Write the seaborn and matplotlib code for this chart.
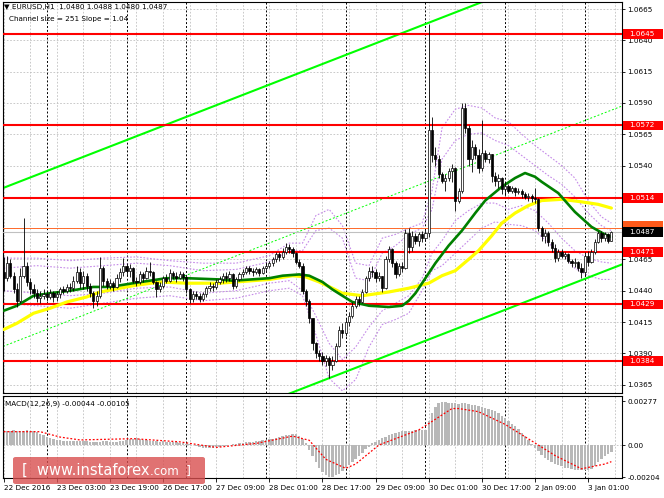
import numpy as np
import pandas as pd
import seaborn as sns
import matplotlib.pyplot as plt
from matplotlib.patches import Rectangle, FancyBboxPatch

# EURUSD H1, 22 Dec 2016 11:00 .. 3 Jan 2017 08:00
# prices in pips above 1.0000 (1 pip = 0.0001)
first_open = 455
closes = [
    # 22 Dec
    450, 462, 452, 441, 432, 452, 460, 447, 441, 438, 434, 436, 437,
    # 23 Dec
    435, 438, 435, 437, 441, 440, 443, 442, 448, 455, 446, 452, 444, 438, 432, 436,
    458, 448, 444, 446, 443, 450, 455, 460,
    # 26 Dec
    456, 458, 448, 447, 453, 450, 456, 455, 447, 441, 444, 450, 448, 454, 452, 450, 453, 451,
    # 27 Dec
    441, 433, 437, 436, 433, 437, 442, 444, 443, 447, 449, 452, 450, 453, 444, 449,
    453, 455, 458, 456, 455, 457, 454, 458,
    # 28 Dec
    460, 462, 465, 469, 467, 471, 475, 473, 470, 463, 460, 440, 432, 418, 398, 390,
    388, 384, 386, 381, 384, 396, 409, 406,
    # 29 Dec
    415, 420, 428, 433, 431, 439, 450, 456, 455, 450, 452, 442, 465, 473, 462, 453,
    460, 458, 486, 475, 484, 480, 485, 482,
    # 30 Dec
    486, 568, 548, 545, 533, 528, 530, 536, 538, 512, 520, 586, 570, 545, 555, 548,
    538, 550, 545, 549, 532, 528, 530, 521,
    # 2 Jan
    524, 520, 522, 519, 520, 517, 515, 516, 514, 513, 490, 484, 486, 479, 474, 466,
    471, 468, 469, 464, 462, 463, 458, 455,
    # 3 Jan
    468, 463, 471, 479, 486, 482, 485, 480, 487,
]
highs = [
    467, 468, 465, 455, 446, 458, 498, 463, 450, 445, 441, 440, 441,
    440, 441, 440, 440, 443, 444, 445, 446, 452, 460, 458, 456, 454, 446, 440, 440,
    467, 460, 450, 449, 448, 453, 458, 466,
    462, 461, 459, 451, 456, 455, 459, 463, 456, 448, 447, 452, 453, 457, 456, 455, 456, 455,
    452, 442, 440, 440, 438, 439, 444, 447, 446, 449, 452, 454, 455, 456, 454, 451,
    455, 457, 460, 460, 458, 459, 458, 460,
    463, 464, 467, 471, 471, 474, 478, 477, 475, 471, 465, 462, 441, 433, 418, 399,
    393, 391, 389, 388, 388, 398, 412, 414,
    418, 423, 431, 436, 436, 441, 452, 459, 460, 457, 455, 452, 468, 476, 474, 464,
    462, 463, 489, 490, 488, 486, 487, 488,
    489, 653, 579, 555, 548, 535, 533, 538, 541, 539, 522, 590, 590, 572, 560, 557,
    553, 576, 552, 551, 549, 535, 533, 531,
    527, 525, 524, 523, 522, 521, 519, 518, 517, 522, 514, 492, 489, 488, 481, 477,
    473, 473, 471, 470, 465, 466, 464, 462,
    471, 472, 473, 481, 488, 488, 487, 486, 488,
]
lows = [
    440, 448, 450, 438, 427, 430, 450, 444, 437, 434, 431, 430, 433,
    432, 433, 431, 432, 434, 437, 438, 439, 440, 446, 442, 441, 440, 435, 426, 428,
    434, 444, 441, 441, 440, 442, 447, 452,
    452, 451, 446, 444, 445, 447, 449, 452, 445, 435, 439, 442, 446, 447, 449, 447, 449, 448,
    438, 430, 431, 433, 431, 432, 435, 440, 440, 441, 445, 446, 447, 448, 441, 442,
    448, 451, 453, 453, 452, 453, 452, 453,
    456, 458, 460, 463, 464, 465, 469, 470, 467, 461, 458, 437, 428, 414, 393, 386,
    384, 381, 380, 370, 377, 383, 395, 402,
    404, 412, 418, 426, 428, 430, 438, 448, 451, 447, 448, 439, 441, 463, 459, 450,
    452, 455, 457, 470, 472, 477, 476, 479,
    480, 483, 543, 540, 530, 526, 520, 528, 527, 504, 510, 518, 566, 540, 535, 545,
    534, 536, 543, 542, 527, 524, 522, 517,
    516, 518, 518, 516, 517, 514, 513, 512, 511, 510, 488, 480, 478, 476, 471, 463,
    464, 466, 465, 462, 459, 459, 456, 450,
    452, 460, 462, 469, 478, 479, 480, 478, 480,
]

day_starts = [13, 37, 55, 79, 103, 127, 151, 175]
time_labels = ['22 Dec 2016', '23 Dec 03:00', '23 Dec 19:00', '26 Dec 17:00',
               '27 Dec 09:00', '28 Dec 01:00', '28 Dec 17:00', '29 Dec 09:00',
               '30 Dec 01:00', '30 Dec 17:00', '2 Jan 09:00', '3 Jan 01:00']

# moving averages (sampled at bar index)
ma_fast_idx = [0, 4, 9, 14, 20, 27, 32, 39, 49, 55, 65, 69, 80, 84, 89, 92, 96, 99, 102, 105,
               110, 116, 120, 122, 124, 126, 128, 130, 134, 138, 142, 145, 150, 154, 157, 160,
               162, 167, 172, 177, 181, 183]
ma_fast = [424, 428, 436, 438, 440, 443, 443, 446, 450, 450, 449, 448, 450, 452, 453, 452,
           447, 441, 436, 431, 428, 427, 428, 432, 438, 446, 454, 462, 476, 488, 502, 512,
           523, 530, 534, 531, 527, 518, 503, 491, 485, 483]
ma_slow_idx = [0, 4, 9, 14, 19, 25, 29, 39, 47, 55, 65, 80, 87, 91, 95, 99, 102, 108, 116,
               122, 128, 132, 136, 140, 143, 147, 150, 154, 158, 162, 168, 174, 179, 183]
ma_slow = [409, 414, 422, 426, 431, 435, 439, 444, 447, 446, 446, 449, 452, 451, 447, 442,
           438, 436, 439, 442, 446, 452, 456, 465, 472, 484, 494, 502, 508, 512, 513, 511,
           509, 506]

# purple bands (sampled)
bands_idx = [0, 10, 20, 30, 40, 50, 60, 70, 80, 86, 90, 94, 98, 102, 106, 110, 114, 118,
             122, 126, 129, 132, 136, 140, 144, 148, 152, 156, 160, 164, 168, 172, 176, 180, 183]
band_up_outer = [466, 466, 464, 466, 467, 464, 462, 462, 468, 478, 478, 500, 505, 492, 462, 460,
                 482, 485, 490, 494, 520, 570, 585, 588, 586, 578, 575, 565, 556, 548, 540, 530,
                 512, 499, 494]
band_up_inner = [458, 460, 458, 460, 462, 460, 456, 457, 463, 472, 472, 488, 490, 482, 450, 448,
                 470, 476, 485, 490, 505, 545, 560, 565, 566, 560, 556, 548, 540, 532, 525, 515,
                 502, 492, 488]
band_lo_inner = [440, 438, 436, 438, 442, 443, 438, 440, 446, 448, 440, 420, 398, 385, 395, 411,
                 424, 430, 436, 450, 470, 480, 496, 504, 510, 510, 505, 508, 504, 494, 482, 472,
                 466, 463, 462]
band_lo_outer = [430, 428, 426, 430, 434, 436, 432, 434, 440, 442, 436, 405, 370, 360, 369, 395,
                 413, 417, 422, 440, 456, 460, 470, 480, 490, 495, 493, 492, 488, 478, 470, 458,
                 452, 449, 449]

# regression channel, values at left edge and right edge of the chart
channel_idx = [-0.2, 186.2]
channel_upper = [522, 714]
channel_mid = [395.5, 587.5]
channel_lower = [269, 461]

levels = [1.0645, 1.0572, 1.0514, 1.0471, 1.0429, 1.0384]
bid, ask = 1.0487, 1.0490

# MACD(12,26,9) main values, 1e-5 units, one per bar
macd = [
    85, 88, 90, 92, 90, 88, 90, 92, 90, 86, 80, 72,
    62, 52, 44, 38, 33, 30,
    28, 27, 26, 25, 26, 25, 23, 24, 22, 20, 18, 20, 24, 23, 22, 21, 22, 24, 27, 30,
    35, 40, 42, 38, 34, 30, 27, 25,
    23, 22, 23, 21, 20, 20, 18, 15, 12, 8, 4,
    -2, -8, -14, -18, -20, -20, -18, -15, -12, -8, -4, 0, 4, 8,
    12, 15, 18, 20, 22, 25, 28, 30, 33, 36, 40, 45, 50, 55, 60, 65, 70, 68, 58,
    40, 10, -30, -70, -110, -145, -170, -190, -200,
    -200, -192, -180, -165, -148, -128, -108, -88, -68, -48, -28, -10,
    10, 22, 32, 42, 50, 60, 68, 76, 82, 86, 88, 90, 90, 92, 93, 94, 95,
    150, 200, 240, 262, 272, 270,
    268, 265, 262, 260, 265, 262, 258, 254, 250, 246, 240, 234, 228, 220, 212, 200, 185,
    168, 150, 135, 118, 98, 78, 55, 32, 5, -18,
    -40, -62, -80, -95, -108, -118, -127, -135, -142, -148, -152, -156, -158, -160, -158, -155, -150,
    -130, -110, -90, -72, -58, -44,
]
signal_idx = [0, 11, 17, 23, 39, 53, 64, 76, 87, 92, 97, 103, 106, 113, 118, 125, 135, 137,
              143, 151, 161, 166, 174, 181, 183]
signal = [84, 84, 50, 32, 40, 20, -15, 10, 56, 30, -90, -147, -120, 0, 40, 95, 230, 230,
          210, 130, 0, -66, -150, -120, -105]

# ---- build frames ----
bars = pd.DataFrame({'close': closes, 'high': highs, 'low': lows})
bars['open'] = [first_open] + closes[:-1]
bars[['open', 'high', 'low', 'close']] = 1 + bars[['open', 'high', 'low', 'close']] / 10000
bars['x'] = np.arange(len(bars))
n = len(bars)

sns.set_theme(style="white")
plt.rcParams['font.family'] = ['DejaVu Sans']
FS = 5.2

W, H = 664, 498
fig = plt.figure(figsize=(W / 100, H / 100), dpi=100)
ax = fig.add_axes([3 / W, 1 - 393 / H, 619 / W, 391 / H])
ax2 = fig.add_axes([3 / W, 1 - 478 / H, 619 / W, 82 / H])

xlim = (-0.2, 186.2)
ylim = (1.03583, 1.06706)
price_ticks = [round(1.0365 + 0.0025 * k, 4) for k in range(13)]
# tick labels hidden behind the level / price boxes are left blank
hidden_ticks = [1.0515, 1.0490]

for a in (ax, ax2):
    a.set_xlim(*xlim)
    a.set_facecolor('white')
    for s in a.spines.values():
        s.set_color('black')
        s.set_linewidth(0.8)
    # grid every 8 bars, day separators
    for gx in range(0, n + 3, 8):
        a.axvline(gx, color='#c0c0c0', lw=0.6, ls=(0, (2, 2)), zorder=0)
    for d in day_starts:
        a.axvline(d, color='black', lw=0.7, ls=(0, (2, 2)), zorder=1)

ax.set_ylim(*ylim)
for p in price_ticks:
    ax.axhline(p, color='#c0c0c0', lw=0.6, ls=(0, (2, 2)), zorder=0)

# bands
band_color = '#c58be8'
for vals in (band_up_outer, band_up_inner, band_lo_inner, band_lo_outer):
    sns.lineplot(x=bands_idx, y=1 + np.array(vals) / 10000, ax=ax, color=band_color,
                 lw=0.8, linestyle=(0, (1.5, 1.5)), zorder=2)

# channel
sns.lineplot(x=channel_idx, y=1 + np.array(channel_upper) / 10000, ax=ax, color='#00ff00', lw=1.5, zorder=2)
sns.lineplot(x=channel_idx, y=1 + np.array(channel_lower) / 10000, ax=ax, color='#00ff00', lw=1.5, zorder=2)
sns.lineplot(x=channel_idx, y=1 + np.array(channel_mid) / 10000, ax=ax, color='#00ff00', lw=0.7,
             linestyle=(0, (2, 2)), zorder=2)

# levels
for lv in levels:
    ax.axhline(lv, color='#ff0000', lw=1.5, zorder=3)
ax.axhline(ask, color='#ff6a2a', lw=0.7, zorder=3)
ax.axhline(bid, color='#c0c0c0', lw=0.8, zorder=3)

# moving averages
sns.lineplot(x=ma_slow_idx, y=1 + np.array(ma_slow) / 10000, ax=ax, color='#ffff00', lw=2.3, zorder=4)
sns.lineplot(x=ma_fast_idx, y=1 + np.array(ma_fast) / 10000, ax=ax, color='#008000', lw=1.9, zorder=4)

# candles
up = bars['close'] >= bars['open']
ax.vlines(bars['x'], bars['low'], bars['high'], color='black', lw=0.6, zorder=5)
body = (bars['close'] - bars['open']).abs().clip(lower=0.00006)
bottom = bars[['open', 'close']].min(axis=1)
ax.bar(bars['x'][up], body[up], bottom=bottom[up], width=0.66, color='white',
       edgecolor='black', lw=0.5, zorder=6)
ax.bar(bars['x'][~up], body[~up], bottom=bottom[~up], width=0.66, color='black',
       edgecolor='black', lw=0.5, zorder=6)

ax.set_xticks([])
ax.yaxis.tick_right()
ax.set_yticks(price_ticks)
ax.set_yticklabels(['' if p in hidden_ticks else f'{p:.4f}' for p in price_ticks], fontsize=FS)
ax.tick_params(axis='y', length=2, width=0.6, pad=2, colors='black', direction='out', right=True)
ax.set_xlabel('')
ax.set_ylabel('')

# right-side price boxes
ytr = ax.get_yaxis_transform()
box_h = 0.00078


def price_box(a, tr, y, text, fc, ty=None):
    a.add_patch(Rectangle((1.002, y - box_h / 2), 0.064, box_h, transform=tr, fc=fc, ec='none',
                          clip_on=False, zorder=10))
    if text:
        a.text(1.012, y if ty is None else ty, text, transform=tr, fontsize=FS, color='white',
               va='center', ha='left', clip_on=False, zorder=11)


for lv in levels:
    price_box(ax, ytr, lv, f'{lv:.4f}', '#ff0000')
# ask box sits mostly behind the bid box; only its top strip shows
price_box(ax, ytr, ask + 0.0002, '', '#ff5a1a')
price_box(ax, ytr, bid, f'{bid:.4f}', 'black')

# MACD panel
macd_v = np.array(macd) / 100000
ax2.bar(bars['x'], macd_v, width=0.72, color='#b8b8b8', lw=0, zorder=2)
sns.lineplot(x=signal_idx, y=np.array(signal) / 100000, ax=ax2, color='#ff0000', lw=0.9,
             linestyle=(0, (1.5, 1.5)), zorder=3)
ax2.set_ylim(-0.00208, 0.00309)
ax2.axhline(0, color='#c0c0c0', lw=0.6, ls=(0, (2, 2)), zorder=0)
ax2.yaxis.tick_right()
ax2.set_yticks([0.00277, 0.0, -0.00204])
ax2.set_yticklabels(['0.00277', '0.00', '-0.00204'], fontsize=FS)
ax2.tick_params(axis='y', length=2, width=0.6, pad=2, colors='black', direction='out', right=True)
ax2.set_xticks(range(0, 16 * len(time_labels), 16))
ax2.set_xticklabels(time_labels, fontsize=FS, ha='left')
ax2.tick_params(axis='x', length=3, width=0.6, pad=2, colors='black', direction='out', bottom=True)
ax2.set_xlabel('')
ax2.set_ylabel('')

# texts
fig.text(4 / W, 1 - 7 / H, '\u25bc EURUSD,H1  1.0480 1.0488 1.0480 1.0487', fontsize=FS,
         va='center', ha='left', color='black')
fig.text(9 / W, 1 - 19 / H, 'Channel size = 251 Slope = 1.04', fontsize=FS,
         va='center', ha='left', color='black')
fig.text(5 / W, 1 - 404 / H, 'MACD(12,26,9) -0.00044 -0.00105', fontsize=FS,
         va='center', ha='left', color='black')

# watermark
wm = FancyBboxPatch((13 / W, 1 - 484 / H), 192 / W, 27 / H, boxstyle='round,pad=0,rounding_size=0.004',
                    transform=fig.transFigure, fc='#d94f4f', ec='none', alpha=0.8, zorder=20)
fig.patches.append(wm)
t1 = fig.text(22 / W, 1 - 470 / H, '[  www.instaforex', fontsize=10.5, color='white',
              va='center', ha='left', zorder=21)
fig.canvas.draw()
bb = t1.get_window_extent()
t2 = fig.text(bb.x1 / W, 1 - 471 / H, '.com  ]', fontsize=8.5, color='white',
              va='center', ha='left', zorder=21)

fig.savefig('out.png', dpi=100)
